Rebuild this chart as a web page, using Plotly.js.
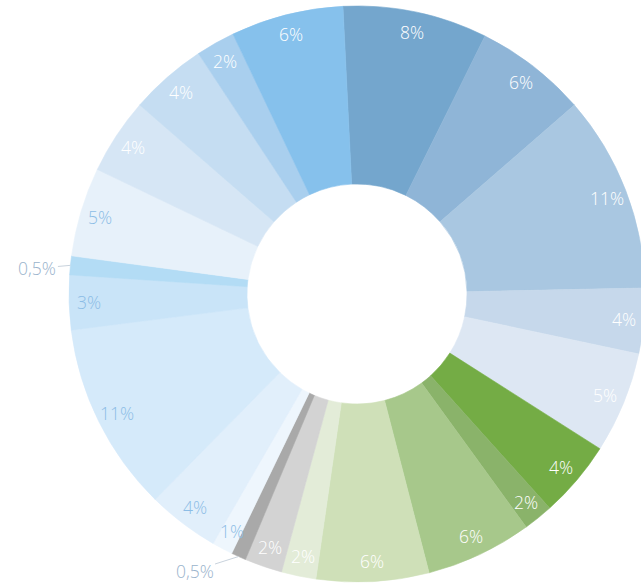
<!DOCTYPE html>
<html><head><meta charset="utf-8">
<script src="https://cdn.plot.ly/plotly-3.0.1.min.js"></script>
<style>html,body{margin:0;padding:0;overflow:hidden;background:#fff;width:641px;height:588px}</style>
</head><body><div id="chart" style="width:700px;height:588px"></div>
<script>
// Slices, clockwise from 12 o'clock (first slice = dark blue "8%")
const sliceNames = ['s1','s2','s3','s4','s5','s6','s7','s8','s9','s10','s11','s12','s13','s14','s15','s16','s17','s18','s19','s20','s21','s22'];
const sliceValues = [8.11, 6.28, 11.06, 3.67, 5.69, 4.31, 1.67, 5.97, 6.31, 1.94, 2.11, 0.83, 1.17, 4.03, 10.64, 3.06, 1.06, 5.0, 4.28, 4.33, 2.19, 6.31];
const sliceLabels = ['8%','6%','11%','4%','5%','4%','2%','6%','6%','2%','2%','0,5%','1%','4%','11%','3%','0,5%','5%','4%','4%','2%','6%'];
const sliceColors = ['#74a6cd','#8fb5d7','#a9c7e1','#c6d8eb','#dde7f3','#74ac45','#8ab36a','#a7c88b','#cfe0b8','#e3ecd8','#d3d3d3','#a9a9a9','#eef6fd','#e1effb','#d5eafa','#c9e4f8','#b3dcf5','#e7f1fa','#d6e6f5','#c5ddf2','#a9cfee','#86c1ec'];

// style
const W = 700, H = 588, CX = 357, CY = 294, R = 288, HOLE = 0.382, START = -2.8;
const WHITE = '#ffffff', BLUE = '#8cbde6', GREYBLUE = '#9ab3cc';
const labelColors = [WHITE,WHITE,WHITE,WHITE,WHITE,WHITE,WHITE,WHITE,WHITE,WHITE,WHITE,GREYBLUE,BLUE,BLUE,BLUE,BLUE,GREYBLUE,BLUE,WHITE,WHITE,WHITE,WHITE];
const outsideOffsets = {11: [-44, 14], 16: [-33, 3]};
const LABEL_R = 0.93;

const trace = {
  type: 'pie',
  labels: sliceNames,
  values: sliceValues,
  sort: false,
  direction: 'clockwise',
  rotation: START,
  hole: HOLE,
  textinfo: 'none',
  hoverinfo: 'none',
  showlegend: false,
  marker: {colors: sliceColors, line: {color: sliceColors, width: 0.6}},
  domain: {x: [(CX - R) / W, (CX + R) / W], y: [(H - CY - R) / H, (H - CY + R) / H]}
};

const total = sliceValues.reduce((a, b) => a + b, 0);
const annotations = [];
let cum = 0;
sliceValues.forEach((v, i) => {
  const ang = (START + (cum + v / 2) / total * 360) * Math.PI / 180;
  cum += v;
  const sx = Math.sin(ang), sy = -Math.cos(ang);
  const font = {family: '"Open Sans", Lato, sans-serif', size: 17.5, color: labelColors[i], weight: 300};
  if (outsideOffsets[i]) {
    const px = CX + R * sx, py = CY + R * sy;
    annotations.push({
      xref: 'paper', yref: 'paper', x: px / W, y: 1 - py / H,
      text: sliceLabels[i], showarrow: true, arrowhead: 0, arrowwidth: 1,
      arrowcolor: '#c9d3dd', ax: outsideOffsets[i][0], ay: outsideOffsets[i][1],
      standoff: 0, font: font
    });
  } else {
    const px = CX + R * LABEL_R * sx, py = CY + R * LABEL_R * sy;
    annotations.push({
      xref: 'paper', yref: 'paper', x: px / W, y: 1 - py / H,
      xanchor: 'center', yanchor: 'middle',
      text: sliceLabels[i], showarrow: false, font: font
    });
  }
});

Plotly.newPlot('chart', [trace], {
  width: W, height: H,
  margin: {l: 0, r: 0, t: 0, b: 0},
  paper_bgcolor: '#ffffff', plot_bgcolor: '#ffffff',
  annotations: annotations
}, {staticPlot: true, displayModeBar: false});
</script>
</body></html>
